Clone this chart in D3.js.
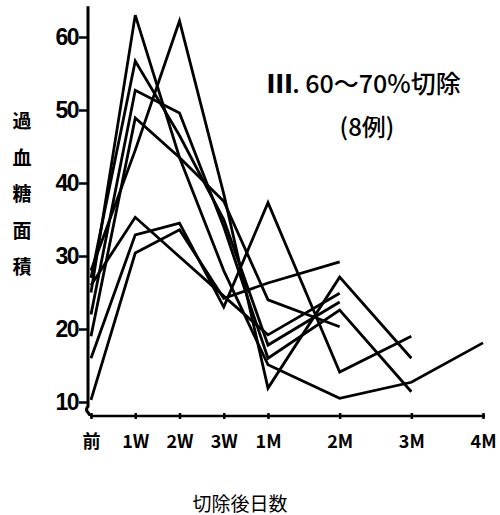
<!DOCTYPE html>
<html>
<head>
<meta charset="utf-8">
<script src="https://cdn.jsdelivr.net/npm/d3@7"></script>
<style>
  html, body { margin: 0; padding: 0; background: #fff; }
  svg { display: block; }
</style>
</head>
<body>
<svg id="chart" width="500" height="515"></svg>
<script>
// Time points after resection (in weeks: 1M = 4w, 2M = 8w, ...)
const categories = ["前", "1W", "2W", "3W", "1M", "2M", "3M", "4M"];
const weeks = [0, 1, 2, 3, 4, 8, 12, 16];

// Hyperglycemic area for each of the 8 cases (null = not measured)
const case1 = [25, 63.0, 43.5, 28.0, 15.1, 10.5, 12.7, 18.1];
const case2 = [28, 44.5, 62.2, 38.5, 11.9, 27.1, 16.0, null];
const case3 = [27, 56.7, 46.5, 35.0, 17.8, 23.7, null, null];
const case4 = [22, 52.7, 49.6, 34.0, 16.0, 22.6, 11.4, null];
const case5 = [19, 48.9, 43.5, 37.5, 24.0, 20.3, null, null];
const case6 = [26, 35.3, 29.9, 24.5, 19.2, 24.9, null, null];
const case7 = [16, 32.9, 34.5, 23.0, 37.3, 14.1, 19.0, null];
const case8 = [10.3, 30.4, 33.6, 24.2, 26.3, 29.2, null, null];
const cases = [case1, case2, case3, case4, case5, case6, case7, case8];

const yTicks = [10, 20, 30, 40, 50, 60];

const svg = d3.select("#chart");

// Weeks axis is drawn denser up to 1M, then month steps
const x = d3.scaleLinear().domain([0, 4, 16]).range([91, 268, 483]);
const y = d3.scaleLinear().domain([10, 60]).range([402, 37]);

// y axis line with a small break mark near the bottom
const ax = 88;
svg.append("path")
  .attr("d", `M${ax},${y(64.2)} L${ax},${y(9.4)} q-3,3 0,6 q2,3 2,${416 - y(9.4) - 6}`)
  .attr("fill", "none").attr("stroke", "#000").attr("stroke-width", 3);

const yAxis = svg.append("g")
  .attr("transform", `translate(${ax},0)`)
  .call(d3.axisLeft(y).tickValues(yTicks).tickSize(9).tickPadding(1).tickFormat(d3.format("d")));
yAxis.select(".domain").remove();
yAxis.selectAll("line").attr("stroke", "#000").attr("stroke-width", 2.5);
yAxis.selectAll("text")
  .attr("font-family", "'Liberation Sans', Arial, sans-serif")
  .attr("font-size", 23)
  .attr("font-weight", "bold")
  .attr("letter-spacing", -1.5)
  .attr("fill", "#000");

// x axis
const xAxisY = 416;
svg.append("line")
  .attr("x1", 90).attr("x2", 485).attr("y1", xAxisY).attr("y2", xAxisY)
  .attr("stroke", "#000").attr("stroke-width", 2.5);
const xAxis = svg.append("g")
  .attr("transform", `translate(0,${xAxisY + 3})`)
  .call(d3.axisBottom(x).tickValues(weeks).tickSize(6).tickPadding(10)
    .tickFormat((d, i) => categories[i]));
xAxis.select(".domain").remove();
xAxis.selectAll("line").attr("stroke", "#000").attr("stroke-width", 2.5).attr("y1", -6).attr("y2", 0);
xAxis.selectAll("text")
  .attr("font-family", "'Noto Sans CJK JP', 'Liberation Sans', sans-serif")
  .attr("font-size", 18)
  .attr("font-weight", "bold")
  .attr("fill", "#000");

// case lines
const line = d3.line()
  .defined(d => d != null)
  .x((d, i) => x(weeks[i]))
  .y(d => y(d));

svg.append("g").selectAll("path")
  .data(cases)
  .join("path")
  .attr("d", d => line(d))
  .attr("fill", "none")
  .attr("stroke", "#000")
  .attr("stroke-width", 2.8)
  .attr("stroke-linejoin", "miter");

// title
const title = svg.append("text")
  .attr("x", 364).attr("y", 93)
  .attr("text-anchor", "middle")
  .attr("font-family", "'Noto Sans CJK JP', sans-serif")
  .attr("font-size", 25)
  .attr("font-weight", "500")
  .attr("fill", "#000");
title.append("tspan").attr("font-weight", "900").text("Ⅲ");
title.append("tspan").text(". 60～70%切除");

svg.append("text")
  .attr("x", 367).attr("y", 136)
  .attr("text-anchor", "middle")
  .attr("font-family", "'Noto Sans CJK JP', sans-serif")
  .attr("font-size", 24)
  .attr("font-weight", "500")
  .attr("fill", "#000")
  .text("(8例)");

// y label, stacked vertically
const yLabel = "過血糖面積".split("");
svg.append("g").selectAll("text")
  .data(yLabel)
  .join("text")
  .attr("x", 22)
  .attr("y", (d, i) => 128 + i * 36.5)
  .attr("text-anchor", "middle")
  .attr("font-family", "'Noto Sans CJK JP', sans-serif")
  .attr("font-size", 19)
  .attr("font-weight", "bold")
  .attr("fill", "#000")
  .text(d => d);

// x label
svg.append("text")
  .attr("x", 240).attr("y", 511)
  .attr("text-anchor", "middle")
  .attr("font-family", "'Noto Sans CJK JP', sans-serif")
  .attr("font-size", 19)
  .attr("fill", "#000")
  .text("切除後日数");
</script>
</body>
</html>
